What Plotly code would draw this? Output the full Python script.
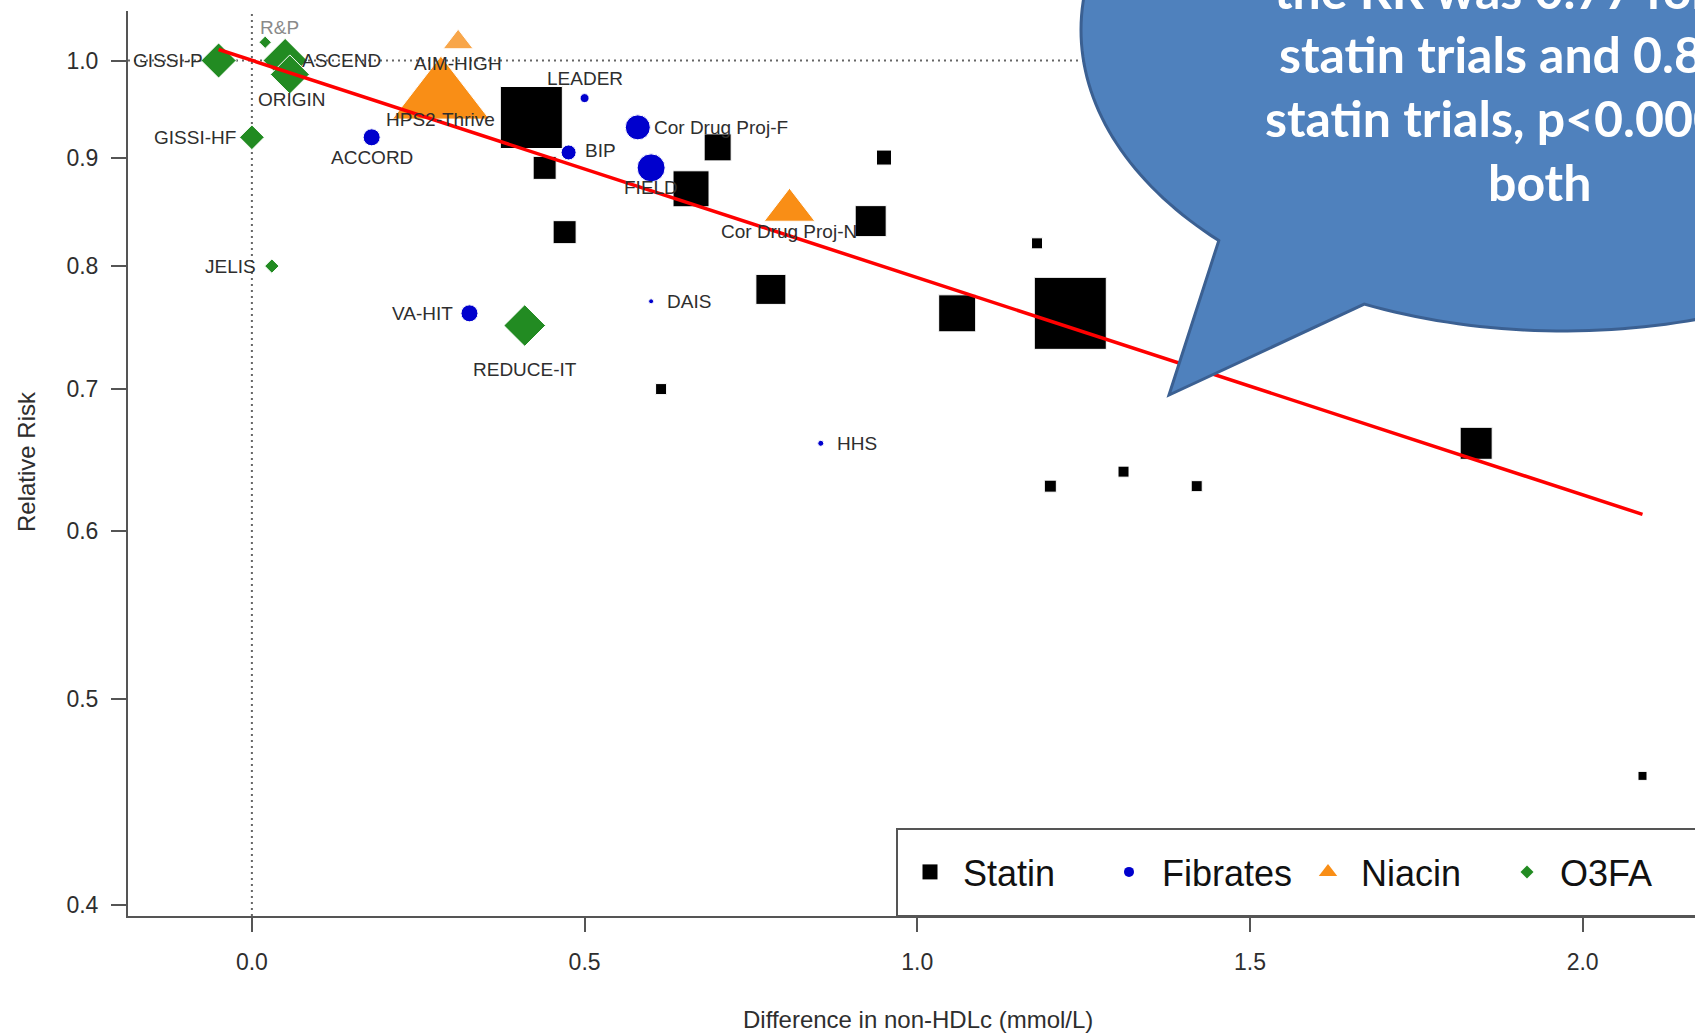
import numpy as np
import plotly.graph_objects as go

# ---------------------------------------------------------------------------
# Trial data: difference in non-HDL-C (mmol/L) vs relative risk
# ---------------------------------------------------------------------------
statin_x = [0.42, 0.44, 0.47, 0.70, 0.66, 0.95, 0.93, 0.78, 0.615, 1.06,
            1.18, 1.23, 1.20, 1.31, 1.42, 1.84, 2.09]
statin_rr = [0.94, 0.89, 0.83, 0.91, 0.87, 0.90, 0.84, 0.78, 0.70, 0.76,
             0.82, 0.76, 0.63, 0.64, 0.63, 0.66, 0.46]

fibrate_names = ["ACCORD", "LEADER", "BIP", "Cor Drug Proj-F", "FIELD",
                 "DAIS", "VA-HIT", "HHS"]
fibrate_x = [0.18, 0.50, 0.476, 0.58, 0.60, 0.60, 0.327, 0.855]
fibrate_rr = [0.92, 0.96, 0.905, 0.93, 0.89, 0.77, 0.76, 0.66]

niacin_names = ["AIM-HIGH", "HPS2-Thrive", "Cor Drug Proj-N"]
niacin_x = [0.31, 0.284, 0.808]
niacin_rr = [1.02, 0.96, 0.85]

o3fa_names = ["GISSI-P", "R&P", "ASCEND", "ORIGIN", "GISSI-HF", "JELIS",
              "REDUCE-IT"]
o3fa_x = [-0.05, 0.02, 0.05, 0.057, 0.0, 0.03, 0.41]
o3fa_rr = [1.00, 1.02, 1.00, 0.985, 0.92, 0.80, 0.75]

# meta-regression line (RR ~ 0.79 per mmol/L)
fit_x = [-0.05, 2.09]
fit_rr = [1.012, 0.611]

x_ticks = [0.0, 0.5, 1.0, 1.5, 2.0]
x_tick_labels = ["0.0", "0.5", "1.0", "1.5", "2.0"]
y_ticks = [0.4, 0.5, 0.6, 0.7, 0.8, 0.9, 1.0]
y_tick_labels = ["0.4", "0.5", "0.6", "0.7", "0.8", "0.9", "1.0"]

callout_lines = ["the RR was 0.77 for non-", "statin trials and 0.80 for",
                 "statin trials, p<0.0001 for", "both"]

# ---------------------------------------------------------------------------
# Styling: marker sizes (trial weight), label placement, geometry
# ---------------------------------------------------------------------------
statin_size = [62, 23, 23, 27, 36, 15, 31, 30, 11, 37, 11, 72, 12, 11, 11, 32, 9]
fibrate_size = [17, 9, 15, 25, 28, 5, 17, 6]
niacin_size = [26, 84, 44]
o3fa_size = [27, 9.5, 34, 30, 19, 11, 32]

# label anchor and pixel offset (dx, dy; dy positive = up)
label_place = {
    "GISSI-P": ("right", -14, 0), "R&P": ("center", 14, 15),
    "ASCEND": ("left", 15, 0), "ORIGIN": ("center", 2, -25),
    "AIM-HIGH": ("center", 0, -21), "LEADER": ("center", 0, 20),
    "HPS2-Thrive": ("center", 0, -21), "Cor Drug Proj-F": ("left", 14, 0),
    "GISSI-HF": ("right", -14, 0), "BIP": ("left", 14, 2),
    "ACCORD": ("center", 0, -20), "FIELD": ("center", 0, -20),
    "Cor Drug Proj-N": ("center", -1, -21), "JELIS": ("right", -14, 0),
    "VA-HIT": ("right", -14, 0), "REDUCE-IT": ("center", 0, -44),
    "DAIS": ("left", 14, 0), "HHS": ("left", 14, 0),
}

FIG_W, FIG_H = 1695, 1034
M_L, M_R, M_T, M_B = 128, 0, 11, 118
PLOT_W = FIG_W - M_L - M_R
PLOT_H = FIG_H - M_T - M_B
X_RANGE = [-0.1862, 2.1689]
Y_RANGE = [np.log10(0.3951), np.log10(1.0552)]

FONT = "Liberation Sans, Arial, Helvetica, sans-serif"
AXIS_GREY = "#555555"
TEXT_DARK = "#2e2e2e"


def px_x(px):
    return (px - M_L) / PLOT_W


def px_y(py):
    return (FIG_H - M_B - py) / PLOT_H


fig = go.Figure()

# dotted reference lines at RR = 1 and zero difference
fig.add_trace(go.Scatter(x=X_RANGE, y=[1.0, 1.0], mode="lines",
                         line=dict(color="#666666", width=2, dash="2px,4px"),
                         showlegend=False, hoverinfo="skip"))
fig.add_trace(go.Scatter(x=[0.0, 0.0], y=[10 ** Y_RANGE[0], 10 ** Y_RANGE[1]],
                         mode="lines",
                         line=dict(color="#666666", width=2, dash="2px,4px"),
                         showlegend=False, hoverinfo="skip"))

fig.add_trace(go.Scatter(x=o3fa_x, y=o3fa_rr, mode="markers", text=o3fa_names,
                         marker=dict(symbol="diamond", size=o3fa_size,
                                     color="#228B22", opacity=1),
                         showlegend=False))
fig.add_trace(go.Scatter(x=niacin_x, y=niacin_rr, mode="markers",
                         text=niacin_names,
                         marker=dict(symbol="triangle-up", size=niacin_size,
                                     color=["#F8A64A", "#F98E16", "#F98E16"],
                                     opacity=1),
                         showlegend=False))
fig.add_trace(go.Scatter(x=fibrate_x, y=fibrate_rr, mode="markers",
                         text=fibrate_names,
                         marker=dict(symbol="circle", size=fibrate_size,
                                     color="#0000CD", opacity=1),
                         showlegend=False))
fig.add_trace(go.Scatter(x=statin_x, y=statin_rr, mode="markers",
                         marker=dict(symbol="square", size=statin_size,
                                     color="#000000", opacity=1),
                         showlegend=False))
fig.add_trace(go.Scatter(x=fit_x, y=fit_rr, mode="lines",
                         line=dict(color="#FF0000", width=3.5),
                         showlegend=False, hoverinfo="skip"))

# legend entries
legend_items = [("Statin", "square", 15, "#000000"),
                ("Fibrates", "circle", 10, "#0000CD"),
                ("Niacin", "triangle-up", 16, "#F98E16"),
                ("O3FA", "diamond", 10, "#228B22")]
for name, sym, size, col in legend_items:
    fig.add_trace(go.Scatter(x=[None], y=[None], mode="markers", name=name,
                             marker=dict(symbol=sym, size=size, color=col,
                                         opacity=1)))

annotations = []
# trial labels
for names, xs, ys in [(o3fa_names, o3fa_x, o3fa_rr),
                      (niacin_names, niacin_x, niacin_rr),
                      (fibrate_names, fibrate_x, fibrate_rr)]:
    for name, xv, yv in zip(names, xs, ys):
        anchor, dx, dy = label_place[name]
        annotations.append(dict(
            x=xv, y=np.log10(yv), xref="x", yref="y", text=name,
            showarrow=False, xanchor=anchor, yanchor="middle",
            xshift=dx, yshift=dy,
            font=dict(family=FONT, size=19,
                      color="#8a8a8a" if name == "R&P" else TEXT_DARK)))

# axis titles
annotations.append(dict(x=px_x(918), y=px_y(1019), xref="paper", yref="paper",
                        text="Difference in non-HDLc (mmol/L)", showarrow=False,
                        xanchor="center", yanchor="middle",
                        font=dict(family=FONT, size=24, color=TEXT_DARK)))
annotations.append(dict(x=px_x(26), y=px_y(462), xref="paper", yref="paper",
                        text="Relative Risk", showarrow=False, textangle=-90,
                        xanchor="center", yanchor="middle",
                        font=dict(family=FONT, size=24, color=TEXT_DARK)))

# callout text
callout_pos = [("left", 1272, 9), ("left", 1277, 73), ("left", 1263, 137),
               ("center", 1539, 201)]
for line, (anchor, lx, base) in zip(callout_lines, callout_pos):
    annotations.append(dict(x=px_x(lx), y=px_y(base - 19), xref="paper",
                            yref="paper", text=line, showarrow=False,
                            xanchor=anchor, yanchor="middle",
                            font=dict(family="Lato, Open Sans, sans-serif",
                                      size=50, color="white", weight="bold")))

# speech-bubble callout (ellipse with a wedge pointing at the fit line)
cx, cy, ra, rb = 1563.6, 30.0, 482.6, 301.0
t = np.linspace(np.deg2rad(135.6), np.deg2rad(474.4), 260)
ex = cx + ra * np.cos(t)
ey = cy + rb * np.sin(t)
pts = list(zip(ex, ey)) + [(1169.0, 395.0)]
bubble_path = "M " + " L ".join(f"{px_x(a):.5f},{px_y(b):.5f}" for a, b in pts) + " Z"

shapes = [
    dict(type="rect", xref="paper", yref="paper",
         x0=px_x(897), x1=px_x(1800), y0=px_y(916), y1=px_y(829),
         fillcolor="white", line=dict(color=AXIS_GREY, width=2), layer="above"),
    dict(type="path", xref="paper", yref="paper", path=bubble_path,
         fillcolor="#4F81BD", line=dict(color="#3B6092", width=3),
         layer="above"),
]

fig.update_layout(
    width=FIG_W, height=FIG_H,
    margin=dict(l=M_L, r=M_R, t=M_T, b=M_B, autoexpand=False),
    paper_bgcolor="white", plot_bgcolor="white",
    font=dict(family=FONT, color=TEXT_DARK),
    xaxis=dict(range=X_RANGE, showgrid=False, zeroline=False, showline=True,
               linecolor=AXIS_GREY, linewidth=2, ticks="outside", ticklen=14,
               tickwidth=2, tickcolor=AXIS_GREY, tickvals=x_ticks,
               ticktext=x_tick_labels, ticklabelstandoff=10,
               tickfont=dict(family=FONT, size=23, color=TEXT_DARK)),
    yaxis=dict(type="log", range=Y_RANGE, showgrid=False, zeroline=False,
               showline=True, linecolor=AXIS_GREY, linewidth=2,
               ticks="outside", ticklen=15, tickwidth=2, tickcolor=AXIS_GREY,
               tickvals=y_ticks, ticktext=y_tick_labels, ticklabelstandoff=8,
               tickfont=dict(family=FONT, size=23, color=TEXT_DARK)),
    legend=dict(orientation="h", x=px_x(897), y=px_y(872), xanchor="left",
                yanchor="middle", bgcolor="rgba(0,0,0,0)", borderwidth=0,
                font=dict(family=FONT, size=36, color="#111111"),
                itemwidth=56, entrywidth=128, entrywidthmode="pixels",
                itemclick=False, itemdoubleclick=False),
    annotations=annotations,
    shapes=shapes,
    showlegend=True,
)

fig.write_html("out.html", config={"displayModeBar": False})
